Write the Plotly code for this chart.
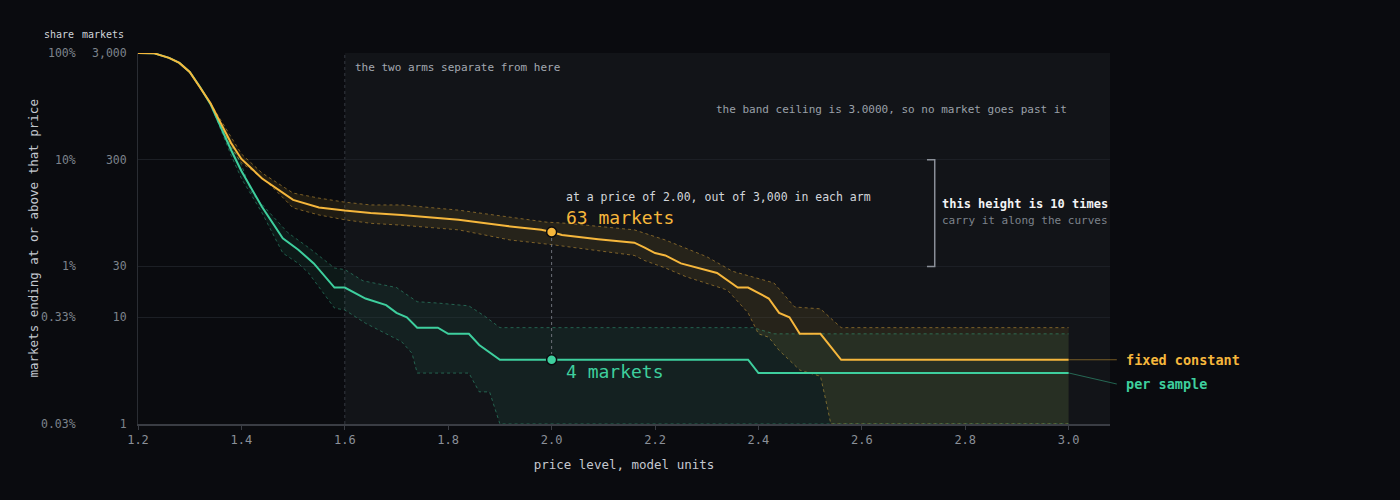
import math
import plotly.graph_objects as go

# price levels and survivor counts (out of 3,000 markets per arm)
fixed_x = [1.20, 1.23, 1.26, 1.28, 1.30, 1.32, 1.34, 1.36, 1.38, 1.40, 1.44, 1.50, 1.55, 1.60,
           1.65, 1.71, 1.82, 1.91, 1.98, 2.00, 2.02, 2.09, 2.16, 2.18, 2.20, 2.22, 2.25, 2.32,
           2.36, 2.38, 2.42, 2.44, 2.46, 2.48, 2.52, 2.56, 3.00]
fixed_y = [3000, 2990, 2700, 2420, 1990, 1440, 1020, 660, 430, 305, 200, 126, 107, 100,
           95, 91, 82, 72, 66, 63, 59, 54, 50, 45, 40, 38, 32, 26,
           19, 19, 15, 11, 10, 7, 7, 4, 4]

sample_x = [1.20, 1.23, 1.26, 1.28, 1.30, 1.32, 1.34, 1.36, 1.38, 1.40, 1.44, 1.48, 1.51, 1.54,
            1.58, 1.60, 1.64, 1.68, 1.70, 1.72, 1.74, 1.78, 1.80, 1.84, 1.86, 1.90, 2.00, 2.38,
            2.40, 3.00]
sample_y = [3000, 2990, 2700, 2420, 1990, 1440, 1000, 610, 370, 235, 108, 55, 43, 32,
            19, 19, 15, 13, 11, 10, 8, 8, 7, 7, 5.5, 4, 4, 4,
            3, 3]

# uncertainty bands
fixed_hi_x = [1.34, 1.36, 1.38, 1.40, 1.44, 1.50, 1.55, 1.60, 1.65, 1.71, 1.82, 1.92, 1.99,
              2.03, 2.16, 2.22, 2.30, 2.35, 2.40, 2.43, 2.47, 2.52, 2.56, 3.00]
fixed_hi_y = [1020, 700, 480, 340, 225, 146, 131, 120, 113, 113, 101, 87, 78,
              76, 66, 53, 37, 27, 23, 21, 12.5, 12, 8, 8]
fixed_lo_x = [1.34, 1.36, 1.38, 1.40, 1.42, 1.46, 1.50, 1.55, 1.60, 1.65, 1.71, 1.82, 1.92,
              2.00, 2.16, 2.18, 2.22, 2.26, 2.34, 2.38, 2.40, 2.42, 2.44, 2.48, 2.52, 2.53,
              2.54, 3.00]
fixed_lo_y = [1020, 620, 390, 280, 240, 166, 106, 91, 82, 76, 73, 66, 53,
              48, 38, 34, 29, 24, 18, 11, 7, 6.5, 4.9, 3.2, 2.8, 1.7,
              1, 1]

sample_hi_x = [1.34, 1.36, 1.38, 1.40, 1.42, 1.49, 1.53, 1.58, 1.60, 1.635, 1.70, 1.74, 1.78,
               1.84, 1.87, 1.90, 2.39, 2.43, 3.00]
sample_hi_y = [1000, 640, 410, 270, 146, 62, 45, 29, 28, 22, 19, 14, 13.6,
               12.8, 10.3, 8, 8, 7, 7]
sample_lo_x = [1.34, 1.36, 1.38, 1.40, 1.44, 1.48, 1.51, 1.53, 1.55, 1.58, 1.60, 1.64, 1.71,
               1.73, 1.74, 1.84, 1.86, 1.88, 1.90, 3.00]
sample_lo_y = [1000, 580, 330, 200, 95, 40, 32, 26, 19, 12.2, 11.7, 8.8, 5.9,
               4.6, 3, 3, 2, 2, 1, 1]

count_ticks = [1, 10, 30, 300, 3000]
count_labels = ["1", "10", "30", "300", "3,000"]
share_labels = ["0.03%", "0.33%", "1%", "10%", "100%"]
x_ticks = [1.2, 1.4, 1.6, 1.8, 2.0, 2.2, 2.4, 2.6, 2.8, 3.0]

split_x = 1.6
pick_x = 2.0
pick_fixed = 63
pick_sample = 4

ORANGE = "#f6b73c"
TEAL = "#3ecf9e"
BG = "#0a0b0f"
FONT = "DejaVu Sans Mono"

fig = go.Figure()

# bands: upper edge first, then lower edge filled back to it
for hx, hy, lx, ly, col, fill in [
    (fixed_hi_x, fixed_hi_y, fixed_lo_x, fixed_lo_y, "rgba(246,183,60,0.45)", "rgba(246,183,60,0.09)"),
    (sample_hi_x, sample_hi_y, sample_lo_x, sample_lo_y, "rgba(62,207,158,0.4)", "rgba(62,207,158,0.07)"),
]:
    fig.add_trace(go.Scatter(x=hx, y=hy, mode="lines", line=dict(color=col, width=1, dash="3px,3px"),
                             hoverinfo="skip", showlegend=False))
    fig.add_trace(go.Scatter(x=lx, y=ly, mode="lines", line=dict(color=col, width=1, dash="3px,3px"),
                             fill="tonexty", fillcolor=fill, hoverinfo="skip", showlegend=False))

fig.add_trace(go.Scatter(x=sample_x, y=sample_y, mode="lines", name="per sample",
                         line=dict(color=TEAL, width=2), showlegend=False))
fig.add_trace(go.Scatter(x=fixed_x, y=fixed_y, mode="lines", name="fixed constant",
                         line=dict(color=ORANGE, width=2), showlegend=False))

# reading at price 2.00
fig.add_trace(go.Scatter(x=[pick_x, pick_x], y=[pick_fixed, pick_sample], mode="lines",
                         line=dict(color="#6b7079", width=1, dash="dot"),
                         hoverinfo="skip", showlegend=False))
fig.add_trace(go.Scatter(x=[pick_x, pick_x], y=[pick_fixed, pick_sample], mode="markers",
                         marker=dict(color=[ORANGE, TEAL], size=10, line=dict(color=BG, width=1.5)),
                         hoverinfo="skip", showlegend=False, cliponaxis=False))

# bracket showing one decade (300 -> 30)
fig.add_trace(go.Scatter(x=[2.726, 2.741, 2.741, 2.726], y=[300, 300, 30, 30], mode="lines",
                         line=dict(color="#8a8f98", width=1.5), hoverinfo="skip", showlegend=False))

shapes = [
    dict(type="rect", xref="x", yref="paper", x0=split_x, x1=3.08, y0=0, y1=1,
         fillcolor="#121418", line=dict(width=0), layer="below"),
    dict(type="line", xref="x", yref="paper", x0=split_x, x1=split_x, y0=0, y1=1,
         line=dict(color="#343841", width=1, dash="3px,3px"), layer="below"),
    dict(type="line", xref="paper", yref="y", x0=0.958, x1=1.007, y0=fixed_y[-1], y1=fixed_y[-1],
         line=dict(color="rgba(246,183,60,0.45)", width=1)),
    dict(type="line", xref="paper", yref="y", x0=0.958, x1=1.007, y0=sample_y[-1], y1=2.37,
         line=dict(color="rgba(62,207,158,0.45)", width=1)),
]


def note(text, x, y, size=11, color="#9aa0a8", xanchor="left", xref="x", yref="paper", **kw):
    return dict(text=text, x=x, y=y, xref=xref, yref=yref, xanchor=xanchor, yanchor="middle",
                showarrow=False, font=dict(family=FONT, size=size, color=color), **kw)


annotations = [note(s, -0.062, math.log10(v), 11.5, "#7d838c", "right", "paper", "y")
               for v, s in zip(count_ticks, share_labels)]
annotations += [
    note("share", -0.0635, 1.049, 10, "#d0d4da", "right", "paper"),
    note("markets", -0.0125, 1.049, 10, "#d0d4da", "right", "paper"),
    note("markets ending at or above that price", -0.108, 0.5, 12.5, "#c4c8cf", "center", "paper",
         textangle=-90),
    note("the two arms separate from here", split_x, 0.962, 11, "#a3a8b0", xshift=8),
    note("the band ceiling is 3.0000, so no market goes past it", 3.0, 0.849, 11, "#9aa0a8", "right"),
    note("at a price of 2.00, out of 3,000 in each arm", pick_x, 0.612, 11.5, "#d3d6db", xshift=12),
    note(f"{pick_fixed} markets", pick_x, 0.557, 18, ORANGE, xshift=12),
    note(f"{pick_sample} markets", pick_x, 0.141, 18, TEAL, xshift=12),
    note("<b>this height is 10 times</b>", 2.741, 0.593, 12, "#f2f3f5", xshift=5),
    note("carry it along the curves", 2.741, 0.548, 11, "#7d838c", xshift=5),
    note("<b>fixed constant</b>", 1.014, math.log10(fixed_y[-1]), 13.5, ORANGE, xref="paper", yref="y"),
    note("<b>per sample</b>", 1.014, math.log10(2.37), 13.5, TEAL, xref="paper", yref="y"),
]

fig.update_layout(
    width=1400, height=500,
    margin=dict(l=138, r=290, t=53, b=76),
    paper_bgcolor=BG, plot_bgcolor=BG,
    font=dict(family=FONT, color="#8b9099"),
    shapes=shapes, annotations=annotations,
    showlegend=False,
)
fig.update_xaxes(range=[1.2, 3.08], tickvals=x_ticks, ticktext=[f"{v:.1f}" for v in x_ticks],
                 showgrid=False, zeroline=False, showline=True, linecolor="#3a3d44", linewidth=1.5,
                 ticks="outside", ticklen=4, tickcolor="#3a3d44",
                 tickfont=dict(family=FONT, size=12, color="#8b9099"),
                 title=dict(text="price level, model units", standoff=14,
                            font=dict(family=FONT, size=12.5, color="#c4c8cf")))
fig.update_yaxes(type="log", range=[0, math.log10(3000)], tickvals=count_ticks, ticktext=count_labels,
                 showgrid=True, gridcolor="#1c1f25", gridwidth=1, zeroline=False,
                 showline=True, linecolor="#2a2d33", linewidth=1,
                 ticks="outside", ticklen=8, tickcolor="rgba(0,0,0,0)",
                 tickfont=dict(family=FONT, size=11.5, color="#7d838c"))

# page margin off so the figure sits flush in the window
fig.write_html("out.html", config={"displayModeBar": False},
               post_script="document.body.style.margin='0';"
                           "document.body.style.background='#0a0b0f';")
